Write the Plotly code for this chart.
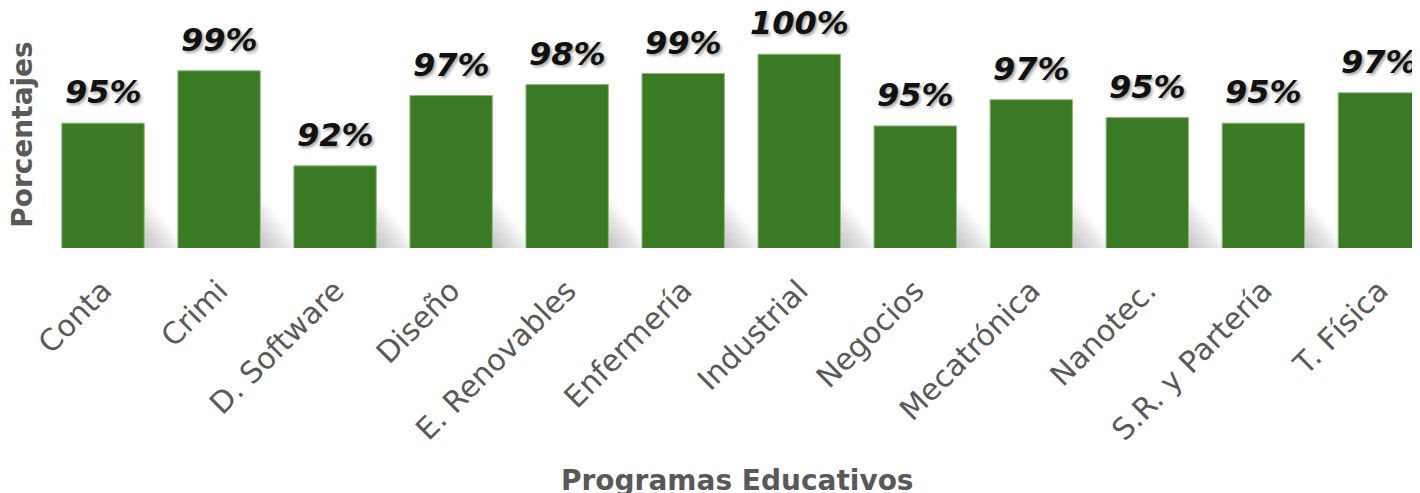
import plotly.graph_objects as go

categories = ["Conta", "Crimi", "D. Software", "Diseño", "E. Renovables", "Enfermería",
              "Industrial", "Negocios", "Mecatrónica", "Nanotec.", "S.R. y Partería", "T. Física"]
values = [95.0, 98.8, 91.9, 97.0, 97.8, 98.6, 100.0, 94.8, 96.7, 95.4, 95.0, 97.2]
labels = ["95%", "99%", "92%", "97%", "98%", "99%", "100%", "95%", "97%", "95%", "95%", "97%"]

# page body has an 8px margin, so the figure is sized to fit the 1420x493 window
W, H = 1412, 485
L_M = 37
PLOT_H = 240.3
B_M = H - PLOT_H
PX_PER_UNIT = 13.8
Y_MIN = 85.94
Y_MAX = Y_MIN + PLOT_H / PX_PER_UNIT
BAR_W = 0.71
GREEN = "#3B7A25"
GRAY = "#595959"

fig = go.Figure()

# soft drop shadow behind the bars (decorative, layered translucent bars)
n_layers = 10
for k in range(n_layers):
    dx = 0.035 * (k + 1)
    h = 3.6 * (1 - k / n_layers)
    fig.add_trace(go.Bar(
        x=categories, y=[h] * len(categories), base=Y_MIN,
        width=BAR_W, offset=-BAR_W / 2 + dx,
        marker=dict(color="rgba(110,110,110,0.045)", line=dict(width=0)),
        hoverinfo="skip", showlegend=False,
    ))

fig.add_trace(go.Bar(
    x=categories, y=values, width=BAR_W,
    marker=dict(color=GREEN, line=dict(color="#8DB87A", width=1)),
    showlegend=False,
))

for c, v, t in zip(categories, values, labels):
    fig.add_annotation(
        x=c, y=v, text=t, showarrow=False, yanchor="bottom", yshift=10,
        font=dict(family="DejaVu Sans", size=32, color="#111111", weight="bold",
                  style="italic", shadow="2px 2px 3px rgba(0,0,0,0.35)"),
    )

# axis titles as paper annotations
fig.add_annotation(
    x=(729 - L_M) / (W - L_M), y=(PLOT_H - 492) / PLOT_H, xref="paper", yref="paper",
    xanchor="center", yanchor="bottom",
    text="Programas Educativos", showarrow=False,
    font=dict(family="DejaVu Sans", size=28, color=GRAY, weight="bold"),
)
fig.add_annotation(
    x=(15 - L_M) / (W - L_M), y=1 - 127 / PLOT_H, xref="paper", yref="paper",
    xanchor="center", yanchor="middle",
    text="Porcentajes", textangle=-90, showarrow=False,
    font=dict(family="DejaVu Sans", size=28, color=GRAY, weight="bold"),
)

fig.update_layout(
    width=W, height=H,
    margin=dict(l=L_M, r=0, t=0, b=B_M, autoexpand=False),
    paper_bgcolor="white", plot_bgcolor="white",
    barmode="overlay",
    xaxis=dict(range=[-0.5, 11.35], tickangle=-45, showline=False, showgrid=False,
               automargin=False, ticks="", ticklabelstandoff=18,
               tickfont=dict(family="DejaVu Sans", size=30, color=GRAY)),
    yaxis=dict(range=[Y_MIN, Y_MAX], visible=False, automargin=False),
)

fig.write_html("out.html")
